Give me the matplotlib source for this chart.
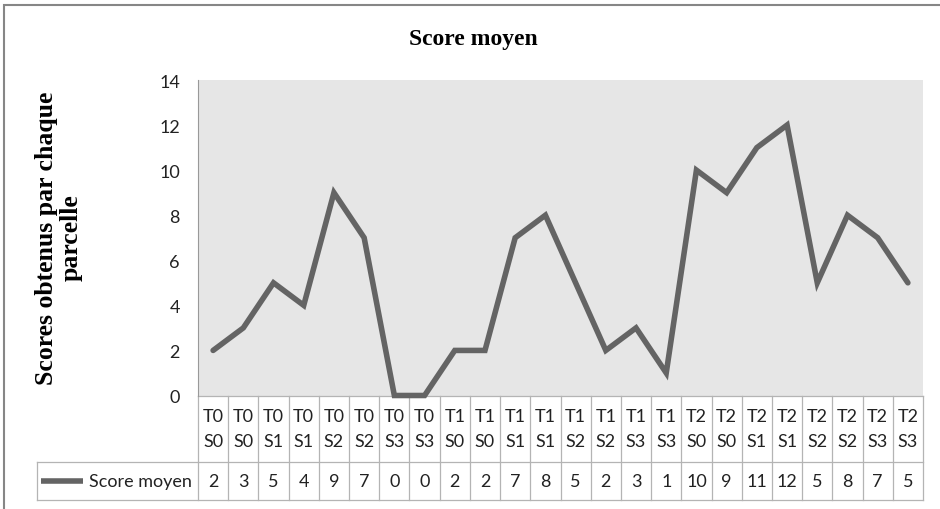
import matplotlib.pyplot as plt
from matplotlib.patches import Rectangle

treatments = ["T0", "T0", "T0", "T0", "T0", "T0", "T0", "T0",
              "T1", "T1", "T1", "T1", "T1", "T1", "T1", "T1",
              "T2", "T2", "T2", "T2", "T2", "T2", "T2", "T2"]
sites = ["S0", "S0", "S1", "S1", "S2", "S2", "S3", "S3",
         "S0", "S0", "S1", "S1", "S2", "S2", "S3", "S3",
         "S0", "S0", "S1", "S1", "S2", "S2", "S3", "S3"]
scores = [2, 3, 5, 4, 9, 7, 0, 0, 2, 2, 7, 8, 5, 2, 3, 1, 10, 9, 11, 12, 5, 8, 7, 5]
series_name = "Score moyen"
title = "Score moyen"
ylabel = "Scores obtenus par chaque\nparcelle"
yticks = [0, 2, 4, 6, 8, 10, 12, 14]

line_color = "#646464"
grid_color = "#b4b4b4"
text_color = "#222222"
tick_font = "Lato"
serif_font = "Liberation Serif"
fs = 13

fig = plt.figure(figsize=(9.4, 5.1), dpi=100)
W, H = 940, 510

# outer chart frame (right/bottom edges fall outside the picture)
fig.patches.append(Rectangle((4 / W, -0.1), 1.2, 1 - 6 / H + 0.1, transform=fig.transFigure,
                             fill=False, edgecolor="#868686", linewidth=1.5))

ax = fig.add_axes([198 / W, 1 - 396.5 / H, 725 / W, 315.5 / H])
ax.set_facecolor("#e6e6e6")

n = len(scores)
x = list(range(n))
ax.plot(x, scores, color=line_color, linewidth=4, solid_joinstyle="miter",
        solid_capstyle="round", clip_on=False, zorder=3)

ax.set_xlim(-0.5, n - 0.5)
ax.set_ylim(0, 14)
ax.set_yticks(yticks)
ax.set_yticklabels([str(t) for t in yticks], fontsize=fs, family=tick_font, color=text_color)
ax.tick_params(axis="y", length=0, pad=13)
ax.set_xticks([])
for s in ["top", "right", "bottom"]:
    ax.spines[s].set_visible(False)
ax.spines["left"].set_color("#999999")
ax.spines["left"].set_linewidth(0.8)

# data table below the plot
tr = ax.get_xaxis_transform()
row1 = -0.211
row2 = -0.330
for i in range(n + 1):
    ax.plot([i - 0.5, i - 0.5], [0, row2], color=grid_color, lw=0.9, transform=tr, clip_on=False)
ax.plot([-0.5, n - 0.5], [0, 0], color=grid_color, lw=0.9, transform=tr, clip_on=False)
ax.plot([-0.5, n - 0.5], [row1, row1], color=grid_color, lw=0.9, transform=tr, clip_on=False)
# legend cell
leg_left = -0.222
ax.plot([leg_left, 0], [row1, row1], color=grid_color, lw=0.9, transform=ax.transAxes, clip_on=False)
ax.plot([leg_left, 1], [row2, row2], color=grid_color, lw=0.9, transform=ax.transAxes, clip_on=False)
ax.plot([leg_left, leg_left], [row1, row2], color=grid_color, lw=0.9, transform=ax.transAxes, clip_on=False)
ax.plot([-0.216, -0.158], [-0.271, -0.271], color=line_color, lw=4, solid_capstyle="butt",
        transform=ax.transAxes, clip_on=False)
ax.text(-0.008, -0.271, series_name, transform=ax.transAxes, ha="right", va="center",
        fontsize=fs, family=tick_font, color=text_color)

for i in range(n):
    ax.text(i, -0.065, treatments[i], transform=tr, ha="center", va="center",
            fontsize=fs, family=tick_font, color=text_color)
    ax.text(i, -0.144, sites[i], transform=tr, ha="center", va="center",
            fontsize=fs, family=tick_font, color=text_color)
    ax.text(i, -0.271, str(scores[i]), transform=tr, ha="center", va="center",
            fontsize=fs, family=tick_font, color=text_color)

fig.text(473 / W, 1 - 40 / H, title, ha="center", va="center", fontsize=17,
         fontweight="bold", family=serif_font, color="black")
fig.text(59 / W, 1 - 238 / H, ylabel, ha="center", va="center", rotation=90,
         fontsize=18.5, fontweight="bold", family=serif_font, color="black",
         multialignment="center", linespacing=1.12)

fig.savefig("out.png", dpi=100)
